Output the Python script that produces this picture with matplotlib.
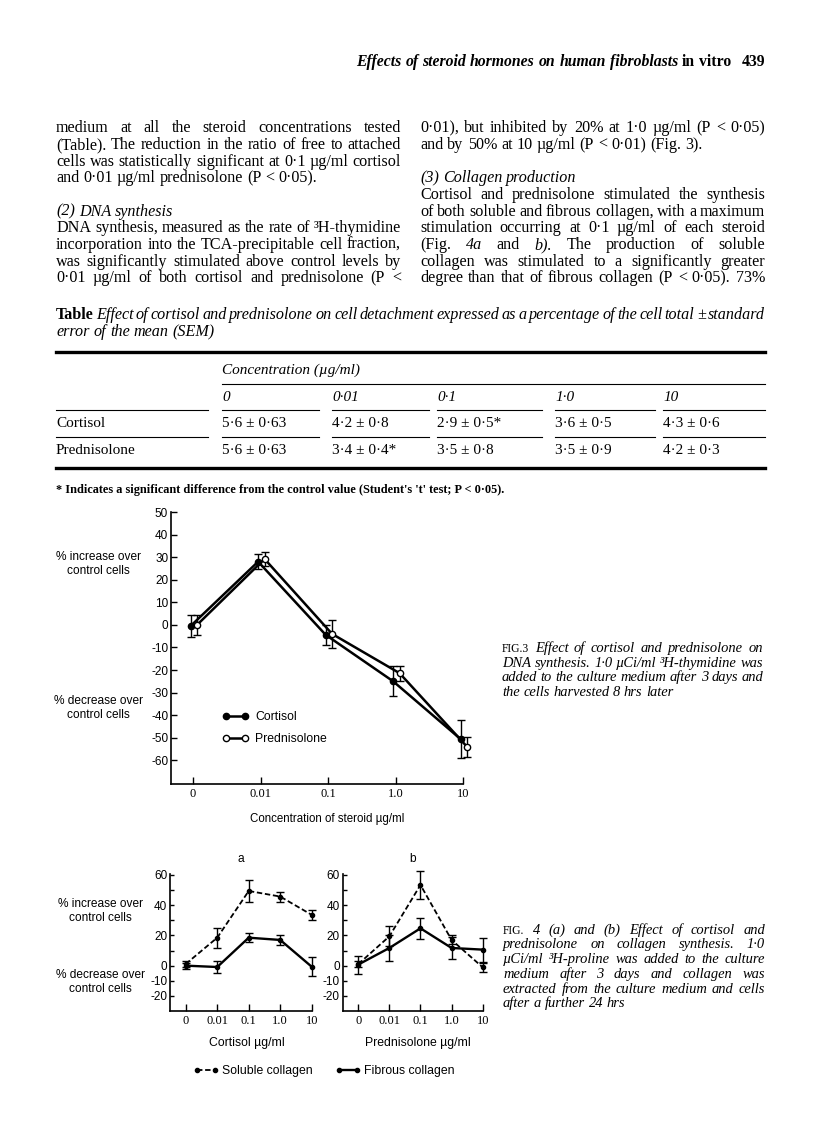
#!/usr/bin/env python3
"""
Journal page: steroid hormones and fibroblasts (table + Fig. 3 + Fig. 4)
"""

import numpy as np
import matplotlib
matplotlib.use('Agg')
import matplotlib.pyplot as plt
from matplotlib.lines import Line2D

# ---- data -------------------------------------------------------------
conc_labels = ['0', '0.01', '0.1', '1.0', '10']

# Fig. 3 - DNA synthesis, % change over control
dna_cortisol = [-0.5, 28.0, -4.4, -25.0, -50.6]
dna_cortisol_err = [4.7, 3.3, 4.3, 6.6, 8.5]
dna_pred = [0.0, 29.2, -4.0, -21.4, -54.0]
dna_pred_err = [4.3, 3.2, 6.3, 3.3, 4.5]

# Fig. 4a - cortisol, collagen synthesis
sol_cort = [1.1, 18.5, 49.4, 45.7, 33.6]
sol_cort_err = [2.0, 6.6, 7.3, 3.3, 3.5]
fib_cort = [0.0, -0.9, 18.5, 17.0, -0.7]
fib_cort_err = [2.0, 4.0, 3.1, 3.3, 6.2]

# Fig. 4b - prednisolone, collagen synthesis
sol_pred = [1.0, 19.4, 53.4, 17.0, -1.1]
sol_pred_err = [2.0, 6.6, 9.2, 3.0, 3.0]
fib_pred = [0.7, 11.7, 24.7, 11.7, 10.6]
fib_pred_err = [5.9, 8.8, 7.0, 7.4, 8.0]

# Table - cell detachment (% of total +- SEM)
table_conc = ['0', '0·01', '0·1', '1·0', '10']
table_rows = ['Cortisol', 'Prednisolone']
detach_mean = [[5.6, 4.2, 2.9, 3.6, 4.3], [5.6, 3.4, 3.5, 3.5, 4.2]]
detach_sem = [[0.63, 0.8, 0.5, 0.5, 0.6], [0.63, 0.4, 0.8, 0.9, 0.3]]
detach_sig = [[0, 0, 1, 0, 0], [0, 1, 0, 0, 0]]

# ---- page setup -------------------------------------------------------
W, H = 816, 1138
SERIF = 'Liberation Serif'
SANS = ['Liberation Sans', 'DejaVu Sans']
plt.rcParams['font.family'] = SANS

fig = plt.figure(figsize=(W / 100, H / 100), dpi=100)
renderer = fig.canvas.get_renderer()


def fy(y):
    return 1 - y / H


def add_ax(l, t, r, b):
    return fig.add_axes([l / W, 1 - b / H, (r - l) / W, (b - t) / H])


def make_words(y, s, fs, style, weight, family):
    out = []
    for tok in s.split():
        st, wt, sz = style, weight, fs
        if tok[0] == '#':
            tok, st, wt = tok[1:], 'normal', 'bold'
        elif tok[0] == '~':
            tok, st = tok[1:], 'normal'
        elif tok[0] == '^':
            tok, st, sz = tok[1:], 'normal', fs * 0.8
        elif len(tok) > 2 and tok[0] == '_' and tok[-1] == '_':
            tok = tok[1:-1]
            st = 'italic' if style == 'normal' else 'normal'
        out.append(fig.text(0, fy(y), tok, fontsize=sz, fontstyle=st,
                            fontweight=wt, family=family, va='baseline'))
    return out


def widths(r):
    return [t.get_window_extent(renderer).width for t in r]


def text_blocks(groups, fs, style='normal', weight='normal', family=SERIF,
                min_gap=0.22):
    """groups: list of (lines, x0, x1); lines: (baseline y, text, mode)
    mode j=justify, l=left, r=right. One font size shared by all groups,
    shrunk until the tightest justified line fits."""
    built = []
    need = 1.0
    for lines, x0, x1 in groups:
        rows = [(make_words(y, s, fs, style, weight, family), m) for y, s, m in lines]
        built.append((rows, x0, x1))
        for r, m in rows:
            if m == 'j' and len(r) > 1:
                n = (sum(widths(r)) + (len(r) - 1) * min_gap * fs * 100 / 72) / (x1 - x0)
                need = max(need, n)
    if need > 1:
        for rows, _, _ in built:
            for r, _ in rows:
                for t in r:
                    t.set_fontsize(t.get_fontsize() / need)
    sp = 0.25 * fs / need * 100 / 72
    for rows, x0, x1 in built:
        for r, m in rows:
            ws = widths(r)
            gap = (x1 - x0 - sum(ws)) / (len(r) - 1) if (m == 'j' and len(r) > 1) else sp
            x = x0 if m != 'r' else x1 - sum(ws) - gap * (len(r) - 1)
            for t, w in zip(r, ws):
                t.set_x(x / W)
                x += w + gap


def rule(x0, x1, y, lw):
    fig.add_artist(Line2D([x0 / W, x1 / W], [fy(y), fy(y)],
                          transform=fig.transFigure, color='k', lw=lw))


LM, RM = 56, 765
LC, RC = 401, 420

# ---- running head -----------------------------------------------------
text_blocks([([(66, 'Effects of steroid hormones on human fibroblasts ~in ~vitro', 'r')],
              300, 731)], 11.3, style='italic', weight='bold')
fig.text(RM / W, fy(66), '439', fontsize=11.3, fontweight='bold', family=SERIF,
         ha='right', va='baseline')

# ---- body text --------------------------------------------------------
ys = [132.5, 149, 165.7, 182.3, 199, 215.7, 232.3, 249, 265.7, 282.3]
left_col = [
    (ys[0], 'medium at all the steroid concentrations tested', 'j'),
    (ys[1], '(Table). The reduction in the ratio of free to attached', 'j'),
    (ys[2], 'cells was statistically significant at 0·1 µg/ml cortisol', 'j'),
    (ys[3], 'and 0·01 µg/ml prednisolone (P < 0·05).', 'l'),
    (ys[5], '_(2)_ _DNA_ _synthesis_', 'l'),
    (ys[6], 'DNA synthesis, measured as the rate of ³H-thymidine', 'j'),
    (ys[7], 'incorporation into the TCA-precipitable cell fraction,', 'j'),
    (ys[8], 'was significantly stimulated above control levels by', 'j'),
    (ys[9], '0·01 µg/ml of both cortisol and prednisolone (P <', 'j'),
]
right_col = [
    (ys[0], '0·01), but inhibited by 20% at 1·0 µg/ml (P < 0·05)', 'j'),
    (ys[1], 'and by 50% at 10 µg/ml (P < 0·01) (Fig. 3).', 'l'),
    (ys[3], '_(3)_ _Collagen_ _production_', 'l'),
    (ys[4], 'Cortisol and prednisolone stimulated the synthesis', 'j'),
    (ys[5], 'of both soluble and fibrous collagen, with a maximum', 'j'),
    (ys[6], 'stimulation occurring at 0·1 µg/ml of each steroid', 'j'),
    (ys[7], '(Fig. _4a_ and _b)._ The production of soluble', 'j'),
    (ys[8], 'collagen was stimulated to a significantly greater', 'j'),
    (ys[9], 'degree than that of fibrous collagen (P < 0·05). 73%', 'j'),
]
text_blocks([(left_col, LM, LC), (right_col, RC, RM)], 13.5, min_gap=0.2)

# ---- table ------------------------------------------------------------
text_blocks([([
    (319, '#Table Effect of cortisol and prednisolone on cell detachment expressed '
          'as a percentage of the cell total ± standard', 'j'),
    (336, 'error of the mean (SEM)', 'l'),
], LM, RM)], 13, style='italic', min_gap=0.15)

TFS = 11
col_x0 = [222, 332, 437, 555, 663]
col_x1 = [319, 429, 542, 655, RM]
rule(LM, RM, 352, 2.4)
fig.text(col_x0[0] / W, fy(374), 'Concentration (µg/ml)', fontsize=TFS,
         style='italic', family=SERIF, va='baseline')
rule(col_x0[0], RM, 384, 0.8)
for cx, lab in zip(col_x0, table_conc):
    fig.text(cx / W, fy(401), lab, fontsize=TFS, style='italic', family=SERIF,
             va='baseline')
row_y = [427, 454]
for yy in (410, 437):
    rule(LM, 208, yy, 0.8)
    for a, b in zip(col_x0, col_x1):
        rule(a, b, yy, 0.8)
for ri, name in enumerate(table_rows):
    fig.text(LM / W, fy(row_y[ri]), name, fontsize=TFS, family=SERIF, va='baseline')
    for ci, cx in enumerate(col_x0):
        s = f"{detach_mean[ri][ci]:g} ± {detach_sem[ri][ci]:g}".replace('.', '·')
        if detach_sig[ri][ci]:
            s += '*'
        fig.text(cx / W, fy(row_y[ri]), s, fontsize=TFS, family=SERIF, va='baseline')
rule(LM, RM, 468, 2.4)
fig.text(LM / W, fy(493), "* Indicates a significant difference from the control value "
         "(Student's 't' test; P < 0·05).", fontsize=8.8, fontweight='bold',
         family=SERIF, va='baseline')

# ---- figure 3 ---------------------------------------------------------
x = np.arange(len(conc_labels))
C_OFF, P_OFF = -0.035, 0.06
LFS = 8.6


def style_axes(ax, ylen, xlen):
    for side in ('top', 'right'):
        ax.spines[side].set_visible(False)
    for side in ('left', 'bottom'):
        ax.spines[side].set_linewidth(1.2)
    ax.tick_params(axis='y', direction='in', length=ylen, width=1, labelsize=8.5, pad=2)
    ax.tick_params(axis='x', direction='in', length=xlen, width=1, pad=3)
    ax.set_xticks(x)
    ax.set_xticklabels(conc_labels, family=SERIF, fontsize=9)


def err_plot(ax, xx, yy, ee, **kw):
    c = ax.errorbar(xx, yy, yerr=ee, color='k', capsize=2.6, elinewidth=1,
                    capthick=1, **kw)
    c.lines[0].set_clip_on(False)
    for art in list(c.lines[1]) + list(c.lines[2]):
        art.set_clip_on(False)
    return c


ax3 = add_ax(171, 512, 463, 784)
err_plot(ax3, x + C_OFF, dna_cortisol, dna_cortisol_err, lw=1.8, marker='o',
         ms=4.5, mfc='k', mec='k')
err_plot(ax3, x + P_OFF, dna_pred, dna_pred_err, lw=1.8, marker='o',
         ms=4.5, mfc='white', mec='k', mew=1)
ax3.set_xlim(-0.326, 4)
ax3.set_ylim(-70.5, 50)
yt3 = np.arange(-60, 51, 10)
ax3.set_yticks(yt3)
ax3.set_yticklabels([str(v) for v in yt3])
style_axes(ax3, 4, 4.8)
ax3.set_xlabel('Concentration of steroid µg/ml', fontsize=8.3)
ax3.xaxis.set_label_coords((327 - 171) / 292, -(813 - 784) / 272)

h3 = [Line2D([], [], color='k', lw=1.8, marker='o', ms=4.5, mfc='k', mec='k'),
      Line2D([], [], color='k', lw=1.8, marker='o', ms=4.5, mfc='white', mec='k')]
ax3.legend(h3, ['Cortisol', 'Prednisolone'], loc='upper left',
           bbox_to_anchor=((222 - 171) / 292, (784 - 711) / 272),
           frameon=False, numpoints=2, handlelength=2.2, handletextpad=0.5,
           labelspacing=0.8, borderpad=0, borderaxespad=0,
           prop={'family': SANS, 'size': 8.8})

for yy, s in [(556.7, '% increase over'), (570.7, 'control cells'),
              (700.7, '% decrease over'), (715, 'control cells')]:
    fig.text(98 / W, fy(yy), s, fontsize=LFS, ha='center', va='center')

fig3_cap = [
    (652, '^FIG.3 Effect of cortisol and prednisolone on', 'j'),
    (667, 'DNA synthesis. 1·0 µCi/ml ³H-thymidine was', 'j'),
    (681, 'added to the culture medium after 3 days and', 'j'),
    (696, 'the cells harvested 8 hrs later', 'l'),
]
fig4_cap = [
    (934, '^FIG. 4 (a) and (b) Effect of cortisol and', 'j'),
    (948, 'prednisolone on collagen synthesis. 1·0', 'j'),
    (963, 'µCi/ml ³H-proline was added to the culture', 'j'),
    (978, 'medium after 3 days and collagen was', 'j'),
    (993, 'extracted from the culture medium and cells', 'j'),
    (1007, 'after a further 24 hrs', 'l'),
]
text_blocks([(fig3_cap, 502, 763), (fig4_cap, 503, 765)], 12.5,
            style='italic', min_gap=0.22)

# ---- figure 4 ---------------------------------------------------------
yt4 = np.arange(-20, 61, 10)
yl4 = [str(v) if v in (-20, -10, 0, 20, 40, 60) else '' for v in yt4]
dash = (0, (3, 1.5))

ax4a = add_ax(170, 874.2, 311.7, 1011)
ax4b = add_ax(342.7, 874.2, 482.7, 1011)
panels = [(ax4a, sol_cort, sol_cort_err, fib_cort, fib_cort_err, 'a', 'Cortisol µg/ml'),
          (ax4b, sol_pred, sol_pred_err, fib_pred, fib_pred_err, 'b', 'Prednisolone µg/ml')]
for ax, s, se, f, fe, tag, xl in panels:
    err_plot(ax, x, s, se, lw=1.3, ls=dash, marker='o', ms=3, mfc='k', mec='k')
    err_plot(ax, x, f, fe, lw=1.7, marker='o', ms=3, mfc='k', mec='k')
    ax.set_xlim(-0.5, 4)
    ax.set_ylim(-30, 60.5)
    ax.set_yticks(yt4)
    ax.set_yticklabels(yl4)
    style_axes(ax, 3, 4.8)
    ax.set_title(tag, fontsize=LFS, pad=9)
    ax.set_xlabel(xl, fontsize=8.8)
    ax.xaxis.set_label_coords(0.54, -(1037 - 1011) / 136.8)

for yy, s in [(904, '% increase over'), (918, 'control cells'),
              (975, '% decrease over'), (989, 'control cells')]:
    fig.text(100 / W, fy(yy), s, fontsize=LFS, ha='center', va='center')

h4 = [Line2D([], [], color='k', lw=1.3, ls=dash, marker='o', ms=3, mfc='k'),
      Line2D([], [], color='k', lw=1.7, marker='o', ms=3, mfc='k')]
fig.legend(h4, ['Soluble collagen', 'Fibrous collagen'], loc='upper left',
           bbox_to_anchor=(193 / W, fy(1065)), ncol=2, frameon=False,
           numpoints=2, handlelength=2.1, handletextpad=0.25, columnspacing=1.85,
           borderpad=0, borderaxespad=0, prop={'family': SANS, 'size': 8.8})

fig.savefig('out.png', dpi=100)
